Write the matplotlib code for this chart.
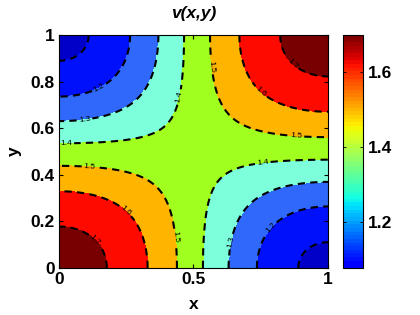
import numpy as np
import matplotlib
matplotlib.use("Agg")
import matplotlib.pyplot as plt
from matplotlib.cm import ScalarMappable
from matplotlib.colors import Normalize, ListedColormap

# ---- data ----
field_offset = 1.437      # v = offset + amp*c + curv*c^2, c = cos(pi x) cos(pi y)
field_amp = 0.333
field_curv = -0.027
levels = [1.1, 1.2, 1.3, 1.4, 1.5, 1.6, 1.7]
band_colors = ["#0000c8", "#0010fa", "#2f68fa", "#7dffdc", "#a0ff1e",
               "#ffb400", "#ff0a00", "#780000"]
clim = (1.077, 1.70)
cbar_ticks = [1.2, 1.4, 1.6]
xticks = [0, 0.5, 1]
yticks = [0, 0.2, 0.4, 0.6, 0.8, 1]
title = "v(x,y)"

label_pos = [(0.151, 0.771), (0.095, 0.635), (0.027, 0.528), (0.114, 0.435),
             (0.244, 0.242), (0.133, 0.12), (0.424, 0.134), (0.442, 0.735),
             (0.56, 0.864), (0.746, 0.75), (0.857, 0.864), (0.882, 0.564),
             (0.758, 0.446), (0.641, 0.113), (0.783, 0.177)]

plt.rcParams['font.family'] = ['Liberation Sans', 'DejaVu Sans']

x = np.linspace(0, 1, 301)
y = np.linspace(0, 1, 301)
X, Y = np.meshgrid(x, y)
C = np.cos(np.pi * X) * np.cos(np.pi * Y)
V = field_offset + field_amp * C + field_curv * C ** 2

fig = plt.figure(figsize=(4.2, 3.15), dpi=100)
ax = fig.add_axes([59 / 420, 47 / 315, 269 / 420, 233 / 315])
cax = fig.add_axes([342.7 / 420, 47 / 315, 20 / 420, 233 / 315])

bounds = [V.min() - 1] + levels + [V.max() + 1]
ax.contourf(X, Y, V, levels=bounds, colors=band_colors)
cs = ax.contour(X, Y, V, levels=levels, colors='k', linestyles=[(0, (3.5, 2.5))],
                linewidths=1.5)
ax.clabel(cs, levels, manual=label_pos, inline=True, inline_spacing=2,
          fontsize=6, fmt='%.1f', colors='k')

ax.set_xlim(0, 1)
ax.set_ylim(0, 1)
ax.set_xticks(xticks)
ax.set_xticklabels(['0', '0.5', '1'])
ax.set_yticks(yticks)
ax.set_yticklabels(['0', '0.2', '0.4', '0.6', '0.8', '1'])
ax.tick_params(direction='in', length=3, width=0.8, labelsize=12.5, pad=3,
               top=True, right=True)
for lab in ax.get_xticklabels() + ax.get_yticklabels():
    lab.set_fontweight('bold')
ax.set_xlabel('x', fontsize=12.5, fontweight='bold', labelpad=7)
ax.set_ylabel('y', fontsize=12.5, fontweight='bold', labelpad=6)
ax.set_title(title, fontsize=12.5, fontweight='bold', style='italic', pad=12)
for s in ax.spines.values():
    s.set_linewidth(0.8)

jet = plt.get_cmap('jet')
cb_cmap = ListedColormap(jet(np.linspace(0.11, 1.0, 64)))
sm = ScalarMappable(norm=Normalize(*clim), cmap=cb_cmap)
cb = fig.colorbar(sm, cax=cax)
cb.set_ticks(cbar_ticks)
cb.set_ticklabels(['1.2', '1.4', '1.6'])
cax.tick_params(direction='in', length=2, width=0.6, labelsize=12.5, left=True, right=True)
for lab in cax.get_yticklabels():
    lab.set_fontweight('bold')
cb.outline.set_linewidth(0.8)

fig.savefig('out.png', dpi=100)
